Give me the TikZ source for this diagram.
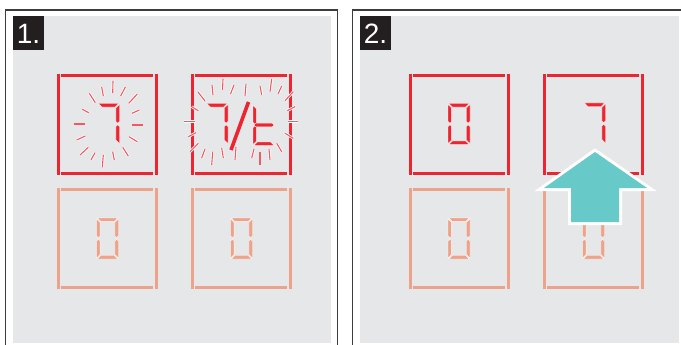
\documentclass[tikz,border=0pt]{standalone}
\usepackage{fontspec}
\setmainfont{Liberation Sans}

\definecolor{panelgrey}{RGB}{230,231,233}
\definecolor{framegrey}{RGB}{60,60,60}
\definecolor{labelblack}{RGB}{35,31,32}
\definecolor{segred}{RGB}{237,37,48}
\definecolor{segsalmon}{RGB}{237,162,138}
\definecolor{rayred}{RGB}{240,90,100}
\definecolor{arrowteal}{RGB}{104,201,201}

\tikzset{
  seg-a/.pic={\filldraw (0.8,0) -- (21.2,0) -- (17.6,3.6) -- (4.4,3.6) -- cycle;},
  seg-d/.pic={\filldraw (0.8,41) -- (21.2,41) -- (17.6,37.4) -- (4.4,37.4) -- cycle;},
  seg-g/.pic={\filldraw (0.8,20.5) -- (2.6,18.7) -- (19.4,18.7) -- (21.2,20.5) -- (19.4,22.3) -- (2.6,22.3) -- cycle;},
  seg-f/.pic={\filldraw (0,0.8) -- (3.6,4.4) -- (3.6,17.9) -- (1.8,19.7) -- (0,17.9) -- cycle;},
  seg-e/.pic={\filldraw (0,23.1) -- (1.8,21.3) -- (3.6,23.1) -- (3.6,36.6) -- (0,40.2) -- cycle;},
  seg-b/.pic={\filldraw (22,0.8) -- (18.4,4.4) -- (18.4,17.9) -- (20.2,19.7) -- (22,17.9) -- cycle;},
  seg-c/.pic={\filldraw (22,23.1) -- (20.2,21.3) -- (18.4,23.1) -- (18.4,36.6) -- (22,40.2) -- cycle;},
  boxbar/.style={line width=3pt},
  ray/.style={rayred, line width=1.1pt, preaction={draw=white, line width=2.6pt}},
  panelframe/.style={framegrey, line width=1.4pt},
  labeltext/.style={text=white, inner sep=0pt, font=\fontsize{28}{28}\selectfont},
}

% seven segment digit: x, y, segments, colour
\newcommand{\segdigit}[4]{%
  \foreach \s in {#3}{\pic[fill=#4, draw=white, line width=0.3pt] at (#1,#2) {seg-\s};}
}
% key frame: x, y, colour
\newcommand{\keybox}[3]{%
  \begin{scope}[shift={(#1,#2)}]
    \draw[boxbar, #3] (1.5,0) -- (1.5,101);
    \draw[boxbar, #3] (99.5,0) -- (99.5,101);
    \draw[boxbar, #3] (4,1.5) -- (96,1.5);
    \draw[boxbar, #3] (4,99.5) -- (96,99.5);
  \end{scope}
}

\begin{document}
\begin{tikzpicture}[x=1pt, y=-1pt]
    \useasboundingbox (0,0) rectangle (681,345);

    % panels
    \fill[panelgrey] (13,16) rectangle (331,343);
    \fill[panelgrey] (360,16) rectangle (679,343);
    \draw[panelframe] (5.7,346) -- (5.7,10) -- (337.7,10) -- (337.7,346);
    \draw[panelframe] (352.7,346) -- (352.7,10) -- (682,10);

    \fill[labelblack] (13,16) rectangle (44,50);
    \fill[labelblack] (360,16) rectangle (391,50);
    \node[labeltext] (lab1) at (28.5,34) {1.};
    \node[labeltext] (lab2) at (375.5,34) {2.};

    % panel 1
    \keybox{57}{74}{segred}
    \keybox{191}{74}{segred}
    \keybox{57}{188}{segsalmon}
    \keybox{191}{188}{segsalmon}

    \segdigit{97.5}{103.5}{a,b,c}{segred}
    \segdigit{206}{103.5}{a,b,c}{segred}
    \draw[segred, line width=3.6pt] (248.5,102) -- (231,150);
    \segdigit{253}{104.5}{f,e,g,d}{segred}
    \segdigit{96.5}{218}{a,b,c,d,e,f}{segsalmon}
    \segdigit{230.5}{218}{a,b,c,d,e,f}{segsalmon}

    \foreach \xa/\ya/\xb/\yb in {101.7/87/103.3/96, 113/81/112.7/93, 125.3/87/120.7/96,
        137.3/94/128.7/103.3, 139.3/110/132/113.3, 142.7/125/131.7/125,
        137.3/141.7/129/136.7, 128.3/156/122.7/147.3, 114.3/160/112.7/151.7,
        102.3/167.3/103.3/155, 91/160/95/152.7, 80/155/88.3/147.3,
        76.7/140/85.3/136, 74/124/85/124, 82.3/109.3/88.7/112.7, 89.3/93.3/95.3/102.7}
        \draw[ray] (\xa,\ya) -- (\xb,\yb);

    \foreach \xa/\ya/\xb/\yb in {198/92/205/101, 212/85/213/95, 223/79/222.5/90,
        234/85/230.5/94, 246/84/245/96, 260/86/261.7/95, 271.7/79/270/91.7,
        281.7/86/278/94, 293.3/91.7/285/100.7, 295/106.7/287.3/110.7,
        298.3/121.7/288/121.7, 293.3/138.3/285/133.3, 281.7/151.7/276.7/143.3,
        270/160/269/149, 260/165/260/151.7, 251.7/158/254/149, 235/160/236/147,
        223.3/158/221.7/148, 211.7/165/212.7/151.7, 201.7/158/205/149,
        190/151.7/198.3/143.3, 188.3/136.7/196/132.7, 184/121.7/195/121.7,
        191.7/106.7/198.3/110.7}
        \draw[ray] (\xa,\ya) -- (\xb,\yb);

    % panel 2
    \keybox{409}{74}{segred}
    \keybox{543}{74}{segred}
    \keybox{409}{188}{segsalmon}
    \keybox{543}{188}{segsalmon}

    \segdigit{448}{103.5}{a,b,c,d,e,f}{segred}
    \segdigit{583.5}{103}{a,b,c}{segred}
    \segdigit{448}{218}{a,b,c,d,e,f}{segsalmon}
    \segdigit{582.5}{218}{a,b,c,d,e,f}{segsalmon}

    \coordinate (T) at (595,152);
    \fill[arrowteal, preaction={draw=white, line width=6pt, miter limit=20}]
        (T) -- (647,188) -- (619,188) -- (619,222) -- (571,222) -- (571,188) -- (544,188) -- cycle;
\end{tikzpicture}
\end{document}
